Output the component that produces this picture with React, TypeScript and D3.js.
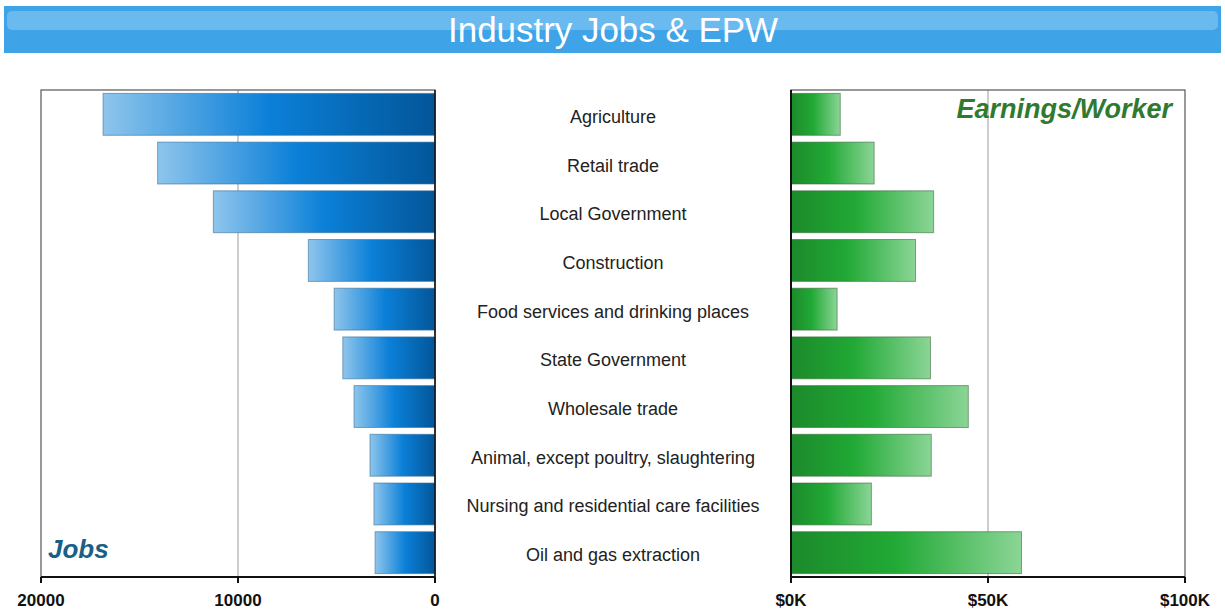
import * as d3 from 'd3';

const categories = [
  'Agriculture',
  'Retail trade',
  'Local Government',
  'Construction',
  'Food services and drinking places',
  'State Government',
  'Wholesale trade',
  'Animal, except poultry, slaughtering',
  'Nursing and residential care facilities',
  'Oil and gas extraction',
];

const jobs = [16850, 14080, 11250, 6430, 5120, 4680, 4110, 3300, 3100, 3040];
const earnings = [12.5, 21.1, 36.2, 31.6, 11.7, 35.4, 45.0, 35.6, 20.4, 58.5];

const jobTicks = [20000, 10000, 0];
const earnTicks = [0, 50, 100];

const W = 1225;
const H = 609;
const TOP = 90;
const BOTTOM = 577;
const FONT = '"Liberation Sans", Arial, Helvetica, sans-serif';

export default function App() {
  const y = d3.scaleBand<string>()
    .domain(categories)
    .range([TOP, BOTTOM])
    .paddingInner(0.14)
    .paddingOuter(0.07);

  // left panel grows right-to-left
  const xJobs = d3.scaleLinear().domain([20000, 0]).range([41, 435]);
  const xEarn = d3.scaleLinear().domain([0, 100]).range([791, 1185]);

  return (
    <>
      <style>{'body{margin:0}'}</style>
      <svg width={W} height={H} style={{ display: 'block', fontFamily: FONT }}>
        <defs>
          <linearGradient id="blueGrad" x1="0" x2="1" y1="0" y2="0">
            <stop offset="0" stopColor="#8ec5ec" />
            <stop offset="0.5" stopColor="#0b80d8" />
            <stop offset="1" stopColor="#035699" />
          </linearGradient>
          <linearGradient id="greenGrad" x1="0" x2="1" y1="0" y2="0">
            <stop offset="0" stopColor="#1c8a2b" />
            <stop offset="0.45" stopColor="#21a935" />
            <stop offset="1" stopColor="#8bd596" />
          </linearGradient>
        </defs>

        {/* title banner */}
        <rect x={4} y={6} width={W - 8} height={47} fill="#3fa4e7" />
        <rect x={7} y={11} width={W - 14} height={19} rx={5} fill="#6bbaef" />
        <text x={613} y={42} textAnchor="middle" fill="#fff" fontSize={35} textLength={330} lengthAdjust="spacingAndGlyphs">
          Industry Jobs &amp; EPW
        </text>

        {/* left panel: jobs */}
        <line x1={xJobs(10000)} x2={xJobs(10000)} y1={TOP} y2={BOTTOM} stroke="#bcbcbc" strokeWidth={1.5} />
        <rect x={41} y={TOP} width={394} height={BOTTOM - TOP} fill="none" stroke="#555" strokeWidth={1.2} />
        {categories.map((c, i) => (
          <rect
            key={c}
            x={xJobs(jobs[i])}
            y={y(c)}
            width={xJobs(0) - xJobs(jobs[i])}
            height={y.bandwidth()}
            fill="url(#blueGrad)"
            stroke="#3c6f98"
            strokeOpacity={0.6}
            strokeWidth={1}
          />
        ))}
        <line x1={435} x2={435} y1={TOP} y2={BOTTOM} stroke="#111" strokeWidth={1.5} />
        <line x1={41} x2={435} y1={BOTTOM} y2={BOTTOM} stroke="#111" strokeWidth={2} />
        {jobTicks.map((t) => (
          <g key={t}>
            <line x1={xJobs(t)} x2={xJobs(t)} y1={BOTTOM} y2={BOTTOM + 6} stroke="#111" strokeWidth={2} />
            <text x={xJobs(t)} y={606} textAnchor="middle" fontSize={17} fontWeight="bold" fill="#111">
              {t}
            </text>
          </g>
        ))}
        <text x={48} y={558} fontSize={26} fontWeight="bold" fontStyle="italic" fill="#1a5f86">
          Jobs
        </text>

        {/* category labels */}
        {categories.map((c) => (
          <text
            key={c}
            x={613}
            y={(y(c) ?? 0) + y.bandwidth() / 2 + 8.5}
            textAnchor="middle"
            fontSize={18}
            fill="#222"
          >
            {c}
          </text>
        ))}

        {/* right panel: earnings per worker */}
        <line x1={xEarn(50)} x2={xEarn(50)} y1={TOP} y2={BOTTOM} stroke="#bcbcbc" strokeWidth={1.5} />
        <rect x={791} y={TOP} width={394} height={BOTTOM - TOP} fill="none" stroke="#555" strokeWidth={1.2} />
        {categories.map((c, i) => (
          <rect
            key={c}
            x={xEarn(0)}
            y={y(c)}
            width={xEarn(earnings[i]) - xEarn(0)}
            height={y.bandwidth()}
            fill="url(#greenGrad)"
            stroke="#3d6a40"
            strokeOpacity={0.6}
            strokeWidth={1}
          />
        ))}
        <line x1={791} x2={791} y1={TOP} y2={BOTTOM} stroke="#111" strokeWidth={2} />
        <line x1={791} x2={1185} y1={BOTTOM} y2={BOTTOM} stroke="#111" strokeWidth={2} />
        {earnTicks.map((t) => (
          <g key={t}>
            <line x1={xEarn(t)} x2={xEarn(t)} y1={BOTTOM} y2={BOTTOM + 6} stroke="#111" strokeWidth={2} />
            <text x={xEarn(t)} y={606} textAnchor="middle" fontSize={17} fontWeight="bold" fill="#111">
              {`$${t}K`}
            </text>
          </g>
        ))}
        <text x={1172} y={118} textAnchor="end" fontSize={27} fontWeight="bold" fontStyle="italic" fill="#2f7a2f">
          Earnings/Worker
        </text>
      </svg>
    </>
  );
}
